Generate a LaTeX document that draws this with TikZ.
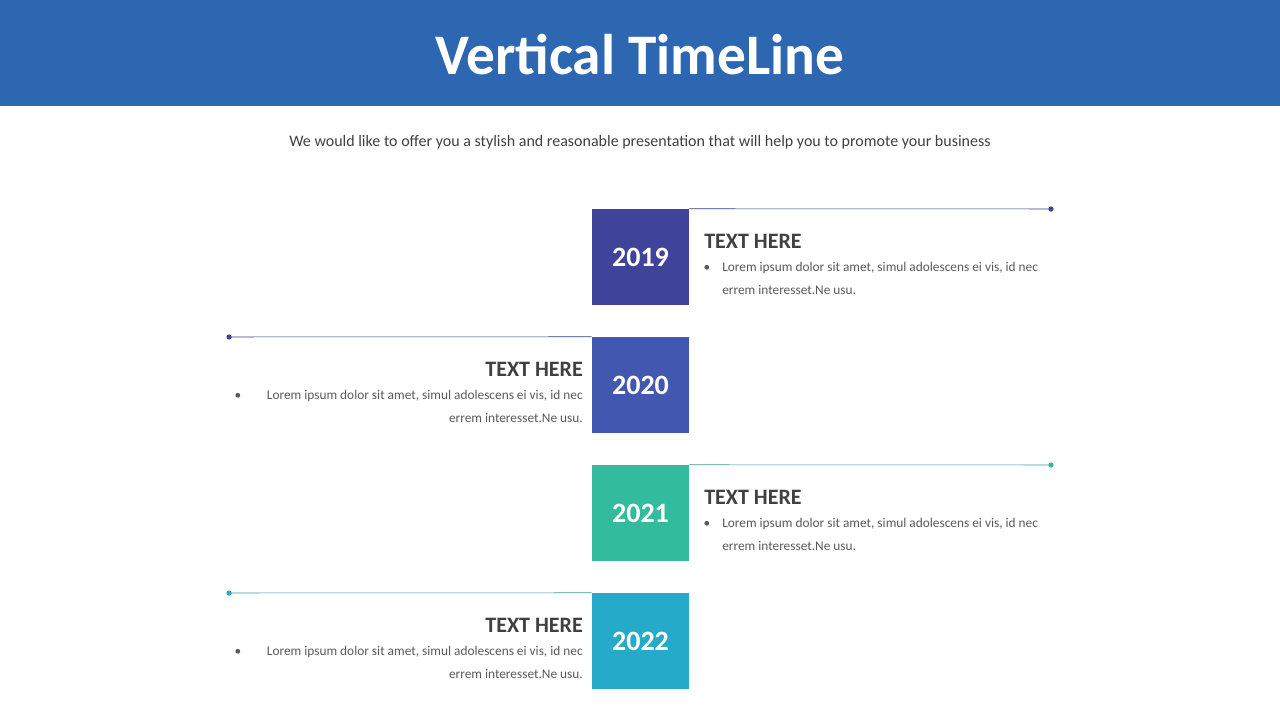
\documentclass[tikz,border=0pt]{standalone}
\usepackage{fontspec}
\setmainfont{Carlito}
\usetikzlibrary{positioning}
\definecolor{headblue}{HTML}{2E67B1}
\definecolor{txtgray}{HTML}{404040}
\definecolor{bodygray}{HTML}{595959}
\definecolor{yrA}{HTML}{3F439A}
\definecolor{yrB}{HTML}{4257B0}
\definecolor{yrC}{HTML}{33BB9E}
\definecolor{yrD}{HTML}{25ABC9}
\definecolor{lineA}{HTML}{2F3A7A}
\definecolor{lineC}{HTML}{3A9A90}
\begin{document}
\begin{tikzpicture}[
    x=0.75pt, y=-0.75pt,
    yearbox/.style={minimum width=97*0.75pt, minimum height=96*0.75pt, inner sep=0pt,
      text=white, font=\fontsize{21}{24}\selectfont\bfseries},
    head/.style={inner sep=0pt, text=txtgray, font=\fontsize{16.5}{19}\selectfont\bfseries},
    body/.style={inner sep=0pt, text=bodygray, font=\fontsize{10}{12}\selectfont},
    tick/.style={thin},
  ]
  \useasboundingbox (0,0) rectangle (1280,720);
  \fill[headblue] (0,0) rectangle (1280,106);
  \node[text=white, font=\fontsize{43}{48}\selectfont\bfseries] (title) at (640,55) {Vertical TimeLine};
  \node[text=txtgray, font=\fontsize{12}{14}\selectfont] (sub) at (640,142)
    {We would like to offer you a stylish and reasonable presentation that will help you to promote your business};
  % year boxes
  \node[yearbox, fill=yrA] (y1) at (640.5,257) {2019};
  \node[yearbox, fill=yrB] (y2) at (640.5,385) {2020};
  \node[yearbox, fill=yrC] (y3) at (640.5,513) {2021};
  \node[yearbox, fill=yrD] (y4) at (640.5,641) {2022};
  % connector lines
  \coordinate (e1) at (1051,209);
  \coordinate (e2) at (229,337);
  \coordinate (e3) at (1051,465);
  \coordinate (e4) at (229,593);
  \draw[lineA, tick] (y1.north east) -- (e1);
  \draw[lineA, tick] (y2.north west) -- (e2);
  \draw[lineC, tick] (y3.north east) -- (e3);
  \draw[lineC, tick] (y4.north west) -- (e4);
  \fill[yrA] (e1) circle (2.6);
  \fill[yrA] (e2) circle (2.6);
  \fill[yrC] (e3) circle (2.6);
  \fill[yrD] (e4) circle (2.6);
  % right side texts
  \foreach \y in {241,497}{
    \node[head, anchor=west] at (704,\y) {TEXT HERE};
    \node[body] at (707,\y+27) {•};
    \node[body, anchor=west] at (722,\y+27) {Lorem ipsum dolor sit amet, simul adolescens ei vis, id nec};
    \node[body, anchor=west] at (722,\y+49) {errem interesset.Ne usu.};
  }
  % left side texts
  \foreach \y in {369,625}{
    \node[head, anchor=east] at (583,\y) {TEXT HERE};
    \node[body] at (238,\y+27) {•};
    \node[body, anchor=east] at (583,\y+27) {Lorem ipsum dolor sit amet, simul adolescens ei vis, id nec};
    \node[body, anchor=east] at (583,\y+49) {errem interesset.Ne usu.};
  }
\end{tikzpicture}
\end{document}
